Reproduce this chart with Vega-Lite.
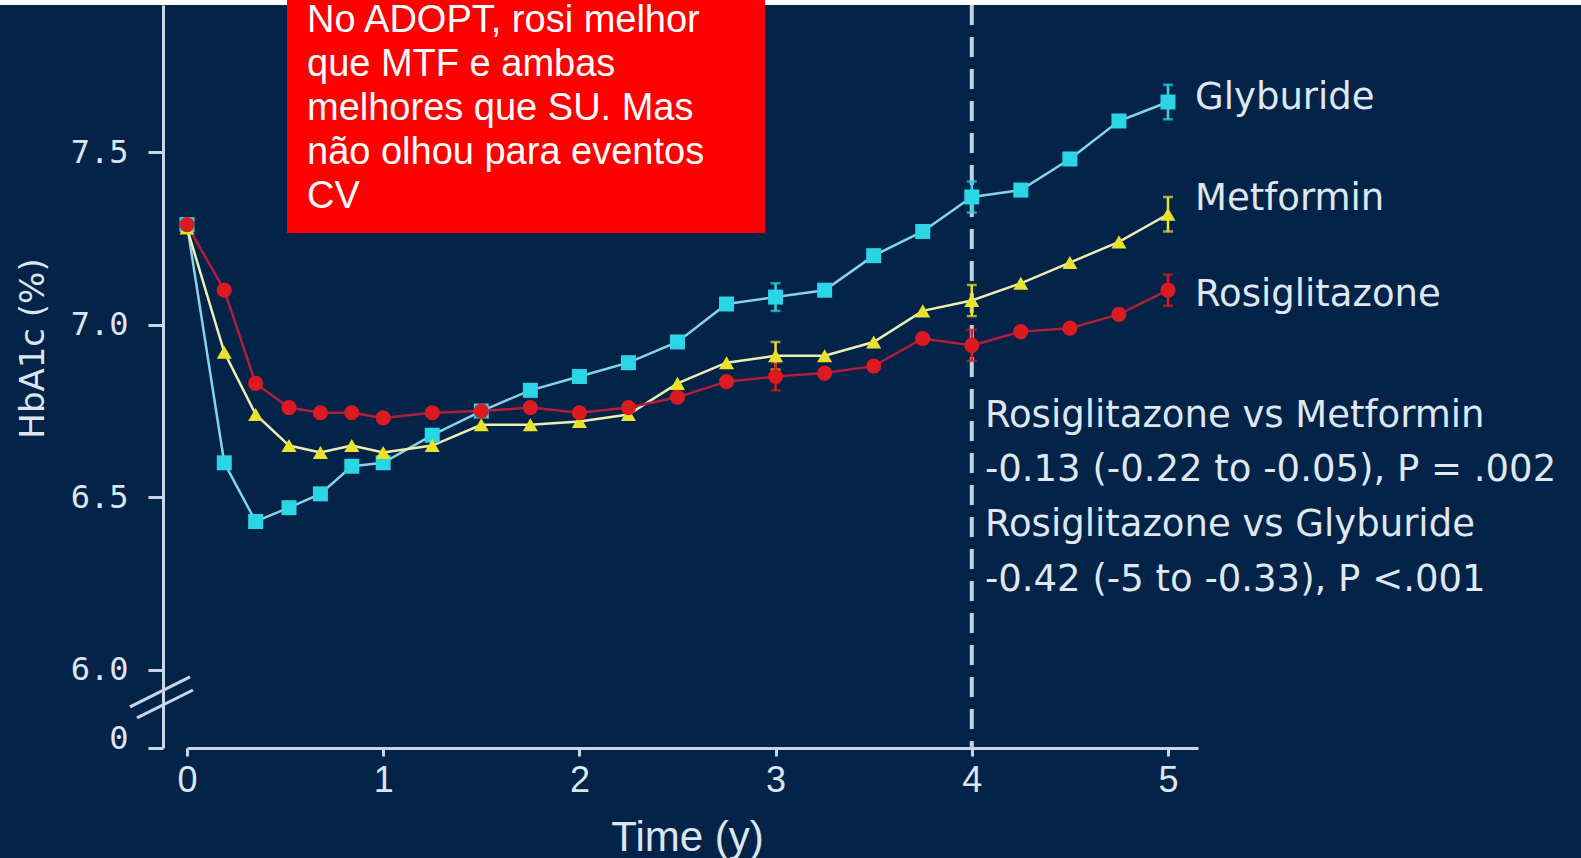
{
  "$schema": "https://vega.github.io/schema/vega-lite/v6.json",
  "width": 1011,
  "height": 743,
  "autosize": {"type": "none"},
  "padding": {"left": 187, "top": 5, "right": 383, "bottom": 110},
  "background": "#032348",
  "config": {"view": {"stroke": null}},
  "datasets": {
    "one": [{}],
    "series": [
      {"s": "Glyburide", "t": 0, "v": 7.29}, {"s": "Glyburide", "t": 0.19, "v": 6.60}, {"s": "Glyburide", "t": 0.35, "v": 6.43},
      {"s": "Glyburide", "t": 0.52, "v": 6.47}, {"s": "Glyburide", "t": 0.68, "v": 6.51}, {"s": "Glyburide", "t": 0.84, "v": 6.59},
      {"s": "Glyburide", "t": 1, "v": 6.60}, {"s": "Glyburide", "t": 1.25, "v": 6.68}, {"s": "Glyburide", "t": 1.5, "v": 6.75},
      {"s": "Glyburide", "t": 1.75, "v": 6.81}, {"s": "Glyburide", "t": 2, "v": 6.85}, {"s": "Glyburide", "t": 2.25, "v": 6.89},
      {"s": "Glyburide", "t": 2.5, "v": 6.95}, {"s": "Glyburide", "t": 2.75, "v": 7.06}, {"s": "Glyburide", "t": 3, "v": 7.08},
      {"s": "Glyburide", "t": 3.25, "v": 7.10}, {"s": "Glyburide", "t": 3.5, "v": 7.20}, {"s": "Glyburide", "t": 3.75, "v": 7.27},
      {"s": "Glyburide", "t": 4, "v": 7.37}, {"s": "Glyburide", "t": 4.25, "v": 7.39}, {"s": "Glyburide", "t": 4.5, "v": 7.48},
      {"s": "Glyburide", "t": 4.75, "v": 7.59}, {"s": "Glyburide", "t": 5, "v": 7.645},
      {"s": "Metformin", "t": 0, "v": 7.28}, {"s": "Metformin", "t": 0.19, "v": 6.92}, {"s": "Metformin", "t": 0.35, "v": 6.74},
      {"s": "Metformin", "t": 0.52, "v": 6.65}, {"s": "Metformin", "t": 0.68, "v": 6.63}, {"s": "Metformin", "t": 0.84, "v": 6.65},
      {"s": "Metformin", "t": 1, "v": 6.63}, {"s": "Metformin", "t": 1.25, "v": 6.65}, {"s": "Metformin", "t": 1.5, "v": 6.71},
      {"s": "Metformin", "t": 1.75, "v": 6.71}, {"s": "Metformin", "t": 2, "v": 6.72}, {"s": "Metformin", "t": 2.25, "v": 6.74},
      {"s": "Metformin", "t": 2.5, "v": 6.83}, {"s": "Metformin", "t": 2.75, "v": 6.89}, {"s": "Metformin", "t": 3, "v": 6.91},
      {"s": "Metformin", "t": 3.25, "v": 6.91}, {"s": "Metformin", "t": 3.5, "v": 6.95}, {"s": "Metformin", "t": 3.75, "v": 7.04},
      {"s": "Metformin", "t": 4, "v": 7.07}, {"s": "Metformin", "t": 4.25, "v": 7.12}, {"s": "Metformin", "t": 4.5, "v": 7.18},
      {"s": "Metformin", "t": 4.75, "v": 7.24}, {"s": "Metformin", "t": 5, "v": 7.32},
      {"s": "Rosiglitazone", "t": 0, "v": 7.29}, {"s": "Rosiglitazone", "t": 0.19, "v": 7.10}, {"s": "Rosiglitazone", "t": 0.35, "v": 6.83},
      {"s": "Rosiglitazone", "t": 0.52, "v": 6.76}, {"s": "Rosiglitazone", "t": 0.68, "v": 6.745}, {"s": "Rosiglitazone", "t": 0.84, "v": 6.745},
      {"s": "Rosiglitazone", "t": 1, "v": 6.73}, {"s": "Rosiglitazone", "t": 1.25, "v": 6.745}, {"s": "Rosiglitazone", "t": 1.5, "v": 6.75},
      {"s": "Rosiglitazone", "t": 1.75, "v": 6.76}, {"s": "Rosiglitazone", "t": 2, "v": 6.745}, {"s": "Rosiglitazone", "t": 2.25, "v": 6.76},
      {"s": "Rosiglitazone", "t": 2.5, "v": 6.79}, {"s": "Rosiglitazone", "t": 2.75, "v": 6.835}, {"s": "Rosiglitazone", "t": 3, "v": 6.85},
      {"s": "Rosiglitazone", "t": 3.25, "v": 6.86}, {"s": "Rosiglitazone", "t": 3.5, "v": 6.88}, {"s": "Rosiglitazone", "t": 3.75, "v": 6.96},
      {"s": "Rosiglitazone", "t": 4, "v": 6.94}, {"s": "Rosiglitazone", "t": 4.25, "v": 6.98}, {"s": "Rosiglitazone", "t": 4.5, "v": 6.99},
      {"s": "Rosiglitazone", "t": 4.75, "v": 7.03}, {"s": "Rosiglitazone", "t": 5, "v": 7.10}
    ],
    "errs": [
      {"s": "Glyburide", "t": 3, "lo": 7.04, "hi": 7.12},
      {"s": "Glyburide", "t": 4, "lo": 7.325, "hi": 7.415},
      {"s": "Glyburide", "t": 5, "lo": 7.595, "hi": 7.695},
      {"s": "Metformin", "t": 3, "lo": 6.87, "hi": 6.95},
      {"s": "Metformin", "t": 4, "lo": 7.025, "hi": 7.115},
      {"s": "Metformin", "t": 5, "lo": 7.27, "hi": 7.37},
      {"s": "Rosiglitazone", "t": 3, "lo": 6.81, "hi": 6.89},
      {"s": "Rosiglitazone", "t": 4, "lo": 6.895, "hi": 6.985},
      {"s": "Rosiglitazone", "t": 5, "lo": 7.055, "hi": 7.145}
    ]
  },
  "layer": [
    {
      "data": {"name": "one"},
      "mark": {"type": "rule", "strokeDash": [20, 12], "strokeWidth": 4, "color": "#c3d0e2"},
      "encoding": {"x": {"datum": 4, "type": "quantitative", "title": "Time (y)"}}
    },
    {
      "data": {"name": "series"},
      "mark": {"type": "line", "strokeWidth": 2.5},
      "encoding": {
        "x": {
          "field": "t", "type": "quantitative", "title": "Time (y)",
          "scale": {"domain": [0, 5.153], "nice": false, "zero": false},
          "axis": {
            "values": [0, 1, 2, 3, 4, 5], "format": "d", "grid": false, "labelFlush": false,
            "domainColor": "#c9d6e6", "domainWidth": 3, "tickColor": "#c9d6e6", "tickWidth": 3, "tickSize": 8,
            "labelFont": "Liberation Sans Narrow, Arial Narrow, Liberation Sans", "labelFontSize": 36, "labelColor": "#dde5ee", "labelPadding": 7,
            "titleFont": "Liberation Sans Narrow, Arial Narrow, Liberation Sans", "titleFontSize": 42, "titleFontWeight": "normal", "titleColor": "#dde5ee",
            "titleX": 500, "titleY": 102, "titleAlign": "center", "titleBaseline": "alphabetic"
          }
        },
        "y": {
          "field": "v", "type": "quantitative", "title": "HbA1c (%)",
          "scale": {"domain": [5.774, 7.926], "nice": false, "zero": false},
          "axis": {
            "values": [5.774, 6, 6.5, 7, 7.5],
            "labelExpr": "datum.value < 5.9 ? '0' : format(datum.value, '.1f')",
            "labelBaseline": {"condition": {"test": "datum.value < 5.9", "value": "alphabetic"}, "value": "middle"},
            "offset": 24, "grid": false, "labelFlush": false,
            "domainColor": "#c9d6e6", "domainWidth": 3, "tickColor": "#c9d6e6", "tickWidth": 3, "tickSize": 15,
            "labelFont": "DejaVu Sans Mono", "labelFontSize": 32, "labelColor": "#dde5ee", "labelPadding": 20,
            "titleFont": "DejaVu Sans", "titleFontSize": 34, "titleFontWeight": "normal", "titleColor": "#dde5ee",
            "titleX": -120, "titleY": 343, "titleAngle": -90, "titleAlign": "center", "titleBaseline": "alphabetic"
          }
        },
        "stroke": {
          "field": "s", "type": "nominal",
          "scale": {"domain": ["Glyburide", "Metformin", "Rosiglitazone"], "range": ["#86d4e6", "#eeeeb4", "#b01e3c"]},
          "legend": null
        }
      }
    },
    {
      "data": {"name": "errs"},
      "mark": {"type": "errorbar", "ticks": {"size": 10}, "thickness": 2.5},
      "encoding": {
        "x": {"field": "t", "type": "quantitative", "title": "Time (y)"},
        "y": {"field": "lo", "type": "quantitative", "title": "HbA1c (%)"},
        "y2": {"field": "hi"},
        "color": {
          "field": "s", "type": "nominal",
          "scale": {"domain": ["Glyburide", "Metformin", "Rosiglitazone"], "range": ["#2ad6e6", "#e8e22c", "#dc1a22"]},
          "legend": null
        }
      }
    },
    {
      "data": {"name": "series"},
      "mark": {"type": "point", "filled": true, "opacity": 1, "strokeWidth": 0},
      "encoding": {
        "x": {"field": "t", "type": "quantitative", "title": "Time (y)"},
        "y": {"field": "v", "type": "quantitative", "title": "HbA1c (%)"},
        "fill": {
          "field": "s", "type": "nominal",
          "scale": {"domain": ["Glyburide", "Metformin", "Rosiglitazone"], "range": ["#2ad6e6", "#e8e22c", "#dc1a22"]},
          "legend": null
        },
        "shape": {
          "field": "s", "type": "nominal",
          "scale": {"domain": ["Glyburide", "Metformin", "Rosiglitazone"], "range": ["square", "triangle-up", "circle"]},
          "legend": null
        },
        "size": {
          "field": "s", "type": "nominal",
          "scale": {"domain": ["Glyburide", "Metformin", "Rosiglitazone"], "range": [225, 230, 270]},
          "legend": null
        }
      }
    },
    {
      "data": {"name": "one"},
      "mark": {"type": "text", "text": "Glyburide", "align": "left", "baseline": "alphabetic", "font": "DejaVu Sans", "fontSize": 37, "color": "#dfe7f0"},
      "encoding": {"x": {"datum": 5.138, "type": "quantitative", "title": "Time (y)"}, "y": {"datum": 7.625, "type": "quantitative", "title": "HbA1c (%)"}}
    },
    {
      "data": {"name": "one"},
      "mark": {"type": "text", "text": "Metformin", "align": "left", "baseline": "alphabetic", "font": "DejaVu Sans", "fontSize": 37, "color": "#dfe7f0"},
      "encoding": {"x": {"datum": 5.138, "type": "quantitative", "title": "Time (y)"}, "y": {"datum": 7.332, "type": "quantitative", "title": "HbA1c (%)"}}
    },
    {
      "data": {"name": "one"},
      "mark": {"type": "text", "text": "Rosiglitazone", "align": "left", "baseline": "alphabetic", "font": "DejaVu Sans", "fontSize": 37, "color": "#dfe7f0"},
      "encoding": {"x": {"datum": 5.138, "type": "quantitative", "title": "Time (y)"}, "y": {"datum": 7.054, "type": "quantitative", "title": "HbA1c (%)"}}
    },
    {
      "data": {"name": "one"},
      "mark": {
        "type": "text",
        "text": ["Rosiglitazone vs Metformin", "-0.13 (-0.22 to -0.05), P = .002", "Rosiglitazone vs Glyburide", "-0.42 (-5 to -0.33), P <.001"],
        "lineHeight": 54.8, "align": "left", "baseline": "alphabetic", "font": "DejaVu Sans", "fontSize": 37, "color": "#dfe7f0"
      },
      "encoding": {"x": {"datum": 4.067, "type": "quantitative", "title": "Time (y)"}, "y": {"datum": 6.705, "type": "quantitative", "title": "HbA1c (%)"}}
    },
    {
      "data": {"name": "one"},
      "mark": {"type": "rule", "strokeWidth": 3, "color": "#c9d6e6", "clip": false},
      "encoding": {
        "x": {"datum": -0.2905, "type": "quantitative", "title": "Time (y)"}, "x2": {"datum": 0.0153},
        "y": {"datum": 5.893, "type": "quantitative", "title": "HbA1c (%)"}, "y2": {"datum": 5.980}
      }
    },
    {
      "data": {"name": "one"},
      "mark": {"type": "rule", "strokeWidth": 3, "color": "#c9d6e6", "clip": false},
      "encoding": {
        "x": {"datum": -0.2548, "type": "quantitative", "title": "Time (y)"}, "x2": {"datum": 0.0306},
        "y": {"datum": 5.861, "type": "quantitative", "title": "HbA1c (%)"}, "y2": {"datum": 5.942}
      }
    },
    {
      "data": {"name": "one"},
      "mark": {"type": "rect", "color": "#ffffff", "clip": false},
      "encoding": {
        "x": {"datum": -0.97, "type": "quantitative", "title": "Time (y)"}, "x2": {"datum": 7.12},
        "y": {"datum": 7.95, "type": "quantitative", "title": "HbA1c (%)"}, "y2": {"datum": 7.926}
      }
    },
    {
      "data": {"name": "one"},
      "mark": {"type": "rect", "color": "#ff0000", "clip": false},
      "encoding": {
        "x": {"datum": 0.5097, "type": "quantitative", "title": "Time (y)"}, "x2": {"datum": 2.946},
        "y": {"datum": 7.95, "type": "quantitative", "title": "HbA1c (%)"}, "y2": {"datum": 7.2655}
      }
    },
    {
      "data": {"name": "one"},
      "mark": {
        "type": "text",
        "text": ["No ADOPT, rosi melhor", "que MTF e ambas", "melhores que SU. Mas", "não olhou para eventos", "CV"],
        "lineHeight": 44.1, "align": "left", "baseline": "alphabetic", "font": "Liberation Sans", "fontSize": 38, "color": "#ffffff", "clip": false
      },
      "encoding": {"x": {"datum": 0.6116, "type": "quantitative", "title": "Time (y)"}, "y": {"datum": 7.8476, "type": "quantitative", "title": "HbA1c (%)"}}
    }
  ]
}
